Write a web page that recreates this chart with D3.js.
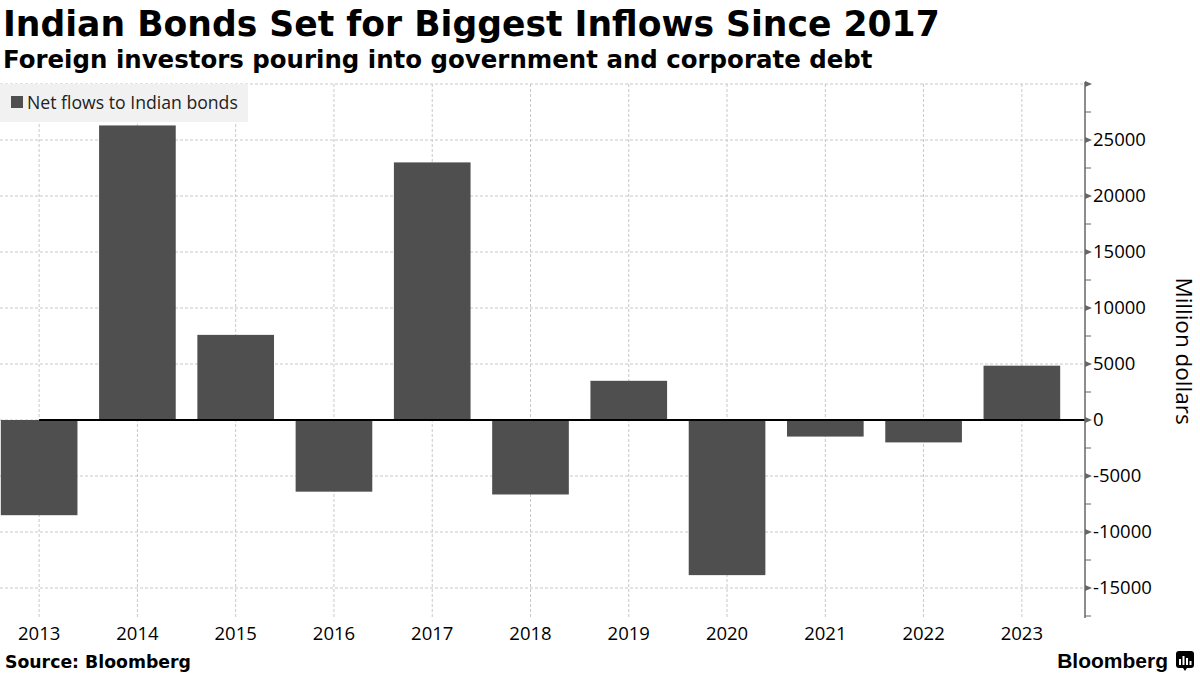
<!DOCTYPE html>
<html>
<head>
<meta charset="utf-8">
<script src="https://cdn.jsdelivr.net/npm/d3@7"></script>
<style>
  html, body { margin: 0; padding: 0; background: #fff; }
  svg { display: block; }
</style>
</head>
<body>
<svg id="chart" width="1200" height="675"></svg>
<script>
const years = ["2013","2014","2015","2016","2017","2018","2019","2020","2021","2022","2023"];
const netFlows = [-8500, 26300, 7600, -6400, 23000, -6650, 3500, -13850, -1480, -2000, 4850];
const yTickValues = [-15000, -10000, -5000, 0, 5000, 10000, 15000, 20000, 25000];
const yMinorValues = [-17500, -12500, -7500, -2500, 2500, 7500, 12500, 17500, 22500, 27500];
const seriesName = "Net flows to Indian bonds";
const titleText = "Indian Bonds Set for Biggest Inflows Since 2017";
const subtitleText = "Foreign investors pouring into government and corporate debt";
const yAxisTitle = "Million dollars";
const sourceText = "Source: Bloomberg";

const svg = d3.select("#chart");
const W = 1200, H = 675;
const plotTop = 84, plotBottom = 616, axisX = 1085;
const barColor = "#4f4f4f";
const labelFont = "'Open Sans', 'Noto Sans', sans-serif";
const boldFont = "'DejaVu Sans', Verdana, sans-serif";

const x = d3.scaleBand().domain(years).range([-10, 1071]).paddingInner(0.22).paddingOuter(0.11);
const y = d3.scaleLinear().domain([-17500, 30000]).range([plotBottom, plotTop]);

function fit(sel, target) {
  const len = sel.node().getComputedTextLength();
  if (len > 0) {
    const fs = parseFloat(sel.attr("font-size"));
    sel.attr("font-size", fs * target / len);
  }
}

// Title & subtitle
const title = svg.append("text").attr("x", 3).attr("y", 36)
  .attr("font-family", boldFont).attr("font-weight", "bold").attr("font-size", 34)
  .attr("fill", "#000").text(titleText);
fit(title, 937);
const sub = svg.append("text").attr("x", 3).attr("y", 68)
  .attr("font-family", boldFont).attr("font-weight", "bold").attr("font-size", 22)
  .attr("fill", "#000").text(subtitleText);
fit(sub, 870);

// Grid
const grid = svg.append("g");
grid.selectAll("line.h").data(yTickValues.concat([30000])).join("line")
  .attr("x1", 0).attr("x2", axisX)
  .attr("y1", d => y(d)).attr("y2", d => y(d))
  .attr("stroke", "#c8c8c8").attr("stroke-width", 1).attr("stroke-dasharray", "3,2");
grid.selectAll("line.v").data(years).join("line")
  .attr("x1", d => x(d) + x.bandwidth() / 2).attr("x2", d => x(d) + x.bandwidth() / 2)
  .attr("y1", plotTop).attr("y2", plotBottom + 2)
  .attr("stroke", "#c8c8c8").attr("stroke-width", 1).attr("stroke-dasharray", "3,2");

// Legend
const leg = svg.append("g");
leg.append("rect").attr("x", 0).attr("y", 84).attr("width", 248).attr("height", 38).attr("fill", "#f1f1f1");
leg.append("rect").attr("x", 11).attr("y", 96).attr("width", 12).attr("height", 12).attr("fill", barColor);
const legText = leg.append("text").attr("x", 27).attr("y", 109).attr("font-family", labelFont)
  .attr("font-size", 17).attr("fill", "#222").text(seriesName);
fit(legText, 211);

// Bars
svg.append("g").selectAll("rect").data(years).join("rect")
  .attr("x", d => x(d))
  .attr("width", x.bandwidth())
  .attr("y", (d, i) => y(Math.max(0, netFlows[i])))
  .attr("height", (d, i) => Math.abs(y(netFlows[i]) - y(0)))
  .attr("fill", barColor);

// Zero line
svg.append("line")
  .attr("x1", x(years[0]) + x.bandwidth() / 2).attr("x2", axisX)
  .attr("y1", y(0)).attr("y2", y(0))
  .attr("stroke", "#000").attr("stroke-width", 2);

// Right axis
const yAxisG = svg.append("g").attr("transform", `translate(${axisX},0)`);
const yAxis = d3.axisRight(y).tickValues(yTickValues).tickSize(0).tickPadding(8)
  .tickFormat(d => String(d));
yAxisG.call(yAxis);
yAxisG.select(".domain").remove();
yAxisG.selectAll("text").attr("font-family", labelFont).attr("font-size", 18.5).attr("fill", "#000");
yAxisG.append("line").attr("x1", 0).attr("x2", 0).attr("y1", plotTop - 2).attr("y2", plotBottom + 2)
  .attr("stroke", "#666").attr("stroke-width", 1.5);
yAxisG.selectAll("path.maj").data(yTickValues.concat([30000])).join("path")
  .attr("d", d => `M0,${y(d) - 3}L7,${y(d)}L0,${y(d) + 3}Z`)
  .attr("fill", "#666");
yAxisG.selectAll("line.min").data(yMinorValues).join("line")
  .attr("x1", 0).attr("x2", 6).attr("y1", d => y(d)).attr("y2", d => y(d))
  .attr("stroke", "#666").attr("stroke-width", 1);

svg.append("text")
  .attr("transform", `translate(1176,351) rotate(90)`)
  .attr("text-anchor", "middle")
  .attr("font-family", labelFont).attr("font-size", 22.5).attr("fill", "#000")
  .text(yAxisTitle);

// Bottom axis labels
const xAxisG = svg.append("g").attr("transform", `translate(0,${plotBottom})`);
xAxisG.call(d3.axisBottom(x).tickSize(0).tickPadding(11));
xAxisG.select(".domain").remove();
xAxisG.selectAll("text").attr("font-family", labelFont).attr("font-size", 18.5).attr("fill", "#000");

// Footer
const src = svg.append("text").attr("x", 5).attr("y", 668)
  .attr("font-family", boldFont).attr("font-weight", "bold").attr("font-size", 16)
  .attr("fill", "#000").text(sourceText);
fit(src, 186);
svg.append("text").attr("x", 1168).attr("y", 668).attr("text-anchor", "end")
  .attr("font-family", "'Liberation Sans', Arial, sans-serif").attr("font-weight", "bold").attr("font-size", 21)
  .attr("fill", "#000").text("Bloomberg");
const logo = svg.append("g").attr("transform", "translate(1176,651)");
logo.append("rect").attr("width", 18).attr("height", 17).attr("rx", 3).attr("fill", "#000");
logo.append("path").attr("d", "M7,17 L9,20 L11,17 Z").attr("fill", "#000");
[[4,8],[7.5,5],[11,7],[14.5,10]].forEach(([bx, by]) => {
  logo.append("rect").attr("x", bx - 1).attr("y", by).attr("width", 2).attr("height", 14 - by).attr("fill", "#fff");
});
</script>
</body>
</html>
